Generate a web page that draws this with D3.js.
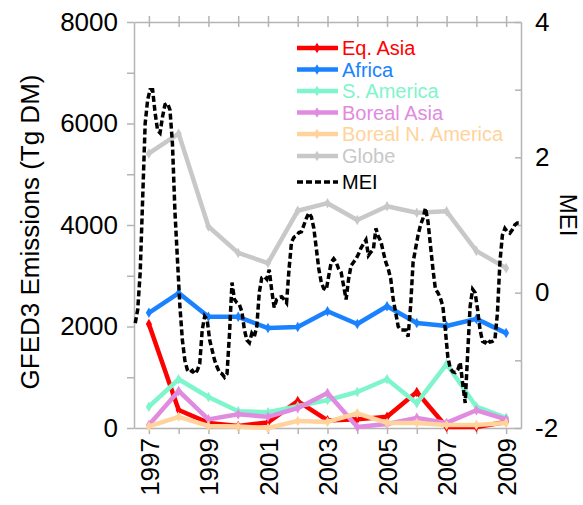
<!DOCTYPE html>
<html>
<head>
<meta charset="utf-8">
<script src="https://cdn.jsdelivr.net/npm/d3@7"></script>
<style>
  html, body { margin: 0; padding: 0; background: #fff; }
  svg { display: block; font-family: 'Liberation Sans', Arial, sans-serif; }
</style>
</head>
<body>
<svg id="chart" width="583" height="505"></svg>
<script>
// annual fire emissions (Tg DM), GFED3
const years = [1997, 1998, 1999, 2000, 2001, 2002, 2003, 2004, 2005, 2006, 2007, 2008, 2009];
const eqAsia = [2050, 355, 100, 40, 110, 530, 150, 170, 220, 710, 20, 20, 120];
const africa = [2270, 2660, 2190, 2190, 1970, 1990, 2300, 2050, 2400, 2070, 2010, 2150, 1870];
const sAmerica = [420, 960, 610, 330, 310, 430, 550, 710, 960, 490, 1260, 420, 200];
const borealAsia = [60, 730, 170, 270, 220, 390, 690, 20, 80, 200, 100, 350, 170];
const borealNAmerica = [30, 220, 40, 30, 0, 140, 120, 290, 100, 100, 60, 60, 100];
const globe = [5410, 5800, 3970, 3450, 3250, 4280, 4430, 4100, 4370, 4240, 4270, 3490, 3150];

// monthly MEI, Jan 1997 .. Dec 2009
const mei = [
  -0.45, -0.25, 0.3, 1.4, 2.5, 2.85, 3.0, 3.0, 2.66, 2.4, 2.36, 2.6,
  2.78, 2.8, 2.7, 2.2, 1.2, 0.5, -0.2, -0.7, -1.0, -1.14, -1.18, -1.15,
  -1.2, -1.15, -1.05, -0.55, -0.35, -0.4, -0.7, -0.85, -1.0, -1.1, -1.18, -1.2,
  -1.25, -1.2, -0.6, 0.15, -0.1, -0.15, -0.18, -0.28, -0.55, -0.7, -0.74, -0.6,
  -0.65, -0.5, 0.0, 0.22, 0.24, 0.2, 0.34, 0.04, -0.22, -0.1, -0.07, -0.06,
  -0.1, -0.15, 0.35, 0.75, 0.82, 0.84, 0.89, 0.9, 1.0, 1.1, 1.18, 1.12,
  0.95, 0.65, 0.35, 0.15, 0.06, 0.04, 0.25, 0.45, 0.5, 0.45, 0.35, 0.3,
  0.1, -0.1, 0.2, 0.4, 0.45, 0.5, 0.57, 0.66, 0.72, 0.78, 0.55, 0.6,
  0.64, 0.95, 0.83, 0.76, 0.6, 0.45, 0.35, 0.2, -0.1, -0.3, -0.5, -0.55,
  -0.55, -0.55, -0.65, -0.2, 0.45, 0.65, 0.85, 1.0, 1.1, 1.25, 1.05, 0.7,
  0.35, 0.05, 0.0, -0.08, -0.2, -0.55, -0.95, -1.12, -1.17, -1.18, -1.14, -1.03,
  -1.35, -1.63, -0.9, -0.2, 0.05, 0.0, -0.25, -0.55, -0.72, -0.74, -0.69, -0.73,
  -0.72, -0.69, -0.3, 0.45, 0.85, 0.95, 0.9, 0.88, 0.93, 1.0, 1.03, 1.03
];

const series = [
  { name: 'Eq. Asia', color: '#ff0000', values: eqAsia },
  { name: 'Africa', color: '#1a82ff', values: africa },
  { name: 'S. America', color: '#7ff5cc', values: sAmerica },
  { name: 'Boreal Asia', color: '#e08be0', values: borealAsia },
  { name: 'Boreal N. America', color: '#ffd39b', values: borealNAmerica },
  { name: 'Globe', color: '#c8c8c8', values: globe },
];

const axisColor = '#b4b4b4';
const svg = d3.select('#chart');

const x = d3.scaleLinear().domain([1997, 2010]).range([134, 521]);
const yL = d3.scaleLinear().domain([0, 8000]).range([428, 22]);
const yR = d3.scaleLinear().domain([-2, 4]).range([428, 22]);

function styleAxis(g) {
  g.select('.domain').attr('stroke', axisColor).attr('stroke-width', 1.5);
  g.selectAll('.tick line').attr('stroke', axisColor).attr('stroke-width', 1.5);
  g.selectAll('.tick text').attr('fill', '#000').style('font-size', '26px').attr('font-family', null);
}

// left axis
svg.append('g')
  .attr('transform', 'translate(134,0)')
  .call(d3.axisLeft(yL).tickValues(d3.range(0, 8001, 1000))
    .tickFormat((d) => (d % 2000 ? '' : d)).tickSize(7).tickSizeOuter(0).tickPadding(9))
  .call(styleAxis);

// right axis (MEI), ticks point inward
svg.append('g')
  .attr('transform', 'translate(521,0)')
  .call(d3.axisRight(yR).tickValues(d3.range(-2, 5, 1))
    .tickFormat((d) => (d % 2 ? '' : d)).tickSize(-6).tickSizeOuter(0).tickPadding(14))
  .call(styleAxis);

// bottom axis, years at mid-year
const bottomAxis = svg.append('g')
  .attr('transform', 'translate(0,428)')
  .call(d3.axisBottom(x).tickValues(years.map((y) => y + 0.5))
    .tickFormat((d) => (Math.floor(d) % 2 ? Math.floor(d) : '')).tickSize(6).tickSizeOuter(0))
  .call(styleAxis);
bottomAxis.selectAll('.tick text')
  .attr('transform', 'rotate(-90)')
  .attr('x', -10)
  .attr('y', 0)
  .attr('dy', '0.36em')
  .style('text-anchor', 'end');

// top axis, no labels
const topAxis = svg.append('g')
  .attr('transform', 'translate(0,22)')
  .call(d3.axisTop(x).tickValues(years.map((y) => y + 0.5)).tickFormat('').tickSize(6).tickSizeOuter(0))
  .call(styleAxis);
topAxis.selectAll('.tick line').attr('y1', 5).attr('y2', -6);

// axis titles
svg.append('text')
  .attr('transform', 'translate(30,232) rotate(-90)')
  .attr('text-anchor', 'middle')
  .attr('dy', '0.35em')
  .style('font-size', '26px')
  .text('GFED3 Emissions (Tg DM)');

svg.append('text')
  .attr('transform', 'translate(568,215) rotate(90)')
  .attr('text-anchor', 'middle')
  .attr('dy', '0.35em')
  .style('font-size', '24px')
  .text('MEI');

// emission lines
const line = d3.line()
  .x((d, i) => x(years[i] + 0.5))
  .y((d) => yL(d));
const diamond = d3.symbol().type(d3.symbolDiamond).size(32);

series.forEach((s) => {
  svg.append('path')
    .datum(s.values)
    .attr('fill', 'none')
    .attr('stroke', s.color)
    .attr('stroke-width', 4.5)
    .attr('stroke-linejoin', 'round')
    .attr('d', line);
  svg.append('g')
    .selectAll('path')
    .data(s.values)
    .enter()
    .append('path')
    .attr('d', diamond)
    .attr('fill', s.color)
    .attr('transform', (d, i) => `translate(${x(years[i] + 0.5)},${yL(d)})`);
});

// MEI dashed line
const meiLine = d3.line()
  .x((d, i) => x(1997 + (i + 0.5) / 12))
  .y((d) => yR(d));
svg.append('path')
  .datum(mei)
  .attr('fill', 'none')
  .attr('stroke', '#000')
  .attr('stroke-width', 3.5)
  .attr('stroke-dasharray', '6,3')
  .attr('d', meiLine);

// legend
const legend = svg.append('g').attr('transform', 'translate(297,0)');
const rowY = [48, 69.5, 91, 112.5, 134, 156];
series.forEach((s, i) => {
  const row = legend.append('g').attr('transform', `translate(0,${rowY[i]})`);
  row.append('line')
    .attr('x1', 0).attr('x2', 41)
    .attr('stroke', s.color).attr('stroke-width', 4.5);
  row.append('path').attr('d', diamond).attr('fill', s.color).attr('transform', 'translate(20,0)');
  row.append('text')
    .attr('x', 45).attr('dy', '0.35em')
    .attr('fill', s.color)
    .style('font-size', '20px')
    .text(s.name);
});
const meiRow = legend.append('g').attr('transform', 'translate(0,182)');
meiRow.append('line')
  .attr('x1', 0).attr('x2', 41)
  .attr('stroke', '#000').attr('stroke-width', 3.5)
  .attr('stroke-dasharray', '6,3');
meiRow.append('text')
  .attr('x', 45).attr('dy', '0.35em')
  .style('font-size', '20px')
  .text('MEI');
</script>
</body>
</html>
